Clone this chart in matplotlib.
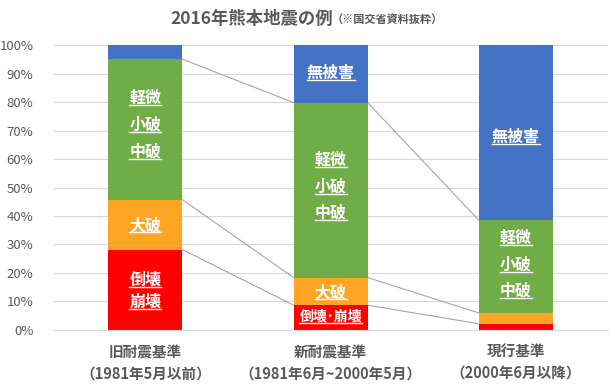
import numpy as np
import matplotlib.pyplot as plt

plt.rcParams['font.family'] = ['Noto Sans CJK JP', 'DejaVu Sans']

# данные
categories = ['旧耐震基準\n（1981年5月以前）', '新耐震基準\n（1981年6月~2000年5月）', '現行基準\n（2000年6月以降）']
collapse = [28.2, 8.7, 2.2]      # 倒壊・崩壊
major = [17.5, 9.7, 3.8]         # 大破
moderate = [49.3, 61.4, 32.6]    # 軽微・小破・中破
nodamage = [5.0, 20.2, 61.4]     # 無被害
yticks = [0, 10, 20, 30, 40, 50, 60, 70, 80, 90, 100]

colors = ['#FF0000', '#FFA524', '#70AD47', '#4472C4']
series = [collapse, major, moderate, nodamage]

fig = plt.figure(figsize=(6.15, 3.88), dpi=100)
ax = fig.add_axes([0.086, 0.1495, 0.903, 0.7345])

x = np.arange(len(categories))
w = 0.4
bottom = np.zeros(len(categories))
tops = []
for vals, c in zip(series, colors):
    ax.bar(x, vals, w, bottom=bottom, color=c, zorder=2)
    bottom = bottom + np.array(vals)
    tops.append(bottom.copy())

# линии ряда между столбцами
for t in tops[:3]:
    for i in range(len(x) - 1):
        ax.plot([x[i] + w / 2, x[i + 1] - w / 2], [t[i], t[i + 1]],
                color='#A6A6A6', lw=0.8, zorder=1)

ax.set_xlim(-0.5, 2.5)
ax.set_ylim(0, 100)
ax.set_yticks(yticks)
ax.set_yticklabels([f'{v}%' for v in yticks], color='#595959', fontsize=9.5)
ax.yaxis.grid(True, color='#D9D9D9', lw=0.8, zorder=0)
ax.set_axisbelow(True)
for s in ['top', 'right', 'left']:
    ax.spines[s].set_visible(False)
ax.spines['bottom'].set_color('#D9D9D9')
ax.tick_params(axis='both', length=0)
ax.tick_params(axis='y', pad=14)
ax.set_xticks(x)
ax.set_xticklabels(categories, color='#595959', fontsize=10.5, fontweight='bold',
                   linespacing=1.4)
ax.tick_params(axis='x', pad=10)

# подписи внутри столбцов (позиция в %)
labels = [
    (0, 81.5, '軽微'), (0, 72.0, '小破'), (0, 62.5, '中破'),
    (0, 36.8, '大破'), (0, 17.5, '倒壊'), (0, 9.8, '崩壊'),
    (1, 90.2, '無被害'),
    (1, 59.6, '軽微'), (1, 50.2, '小破'), (1, 41.1, '中破'),
    (1, 13.3, '大破'), (1, 4.6, '倒壊･崩壊'),
    (2, 67.7, '無被害'),
    (2, 32.3, '軽微'), (2, 22.8, '小破'), (2, 13.7, '中破'),
]
texts = []
for i, y, s in labels:
    fs = 10 if s == '倒壊･崩壊' else 11.5
    t = ax.text(x[i], y, s, ha='center', va='center', color='white',
                fontsize=fs, fontweight='bold', zorder=3)
    texts.append(t)

fig.text(0.41, 0.951, '2016年熊本地震の例', ha='center', va='center',
         fontsize=12.5, fontweight='bold', color='#595959')
fig.text(0.63, 0.951, '（※国交省資料抜粋）', ha='center', va='center',
         fontsize=8, fontweight='bold', color='#595959')

# подчёркивание
fig.canvas.draw()
r = fig.canvas.get_renderer()
inv = ax.transData.inverted()
for t in texts:
    bb = t.get_window_extent(r)
    (x0, y0) = inv.transform((bb.x0, bb.y0 + 1))
    (x1, _) = inv.transform((bb.x1, bb.y0))
    ax.plot([x0, x1], [y0, y0], color='white', lw=1, zorder=3)

fig.savefig('out.png', dpi=100)
